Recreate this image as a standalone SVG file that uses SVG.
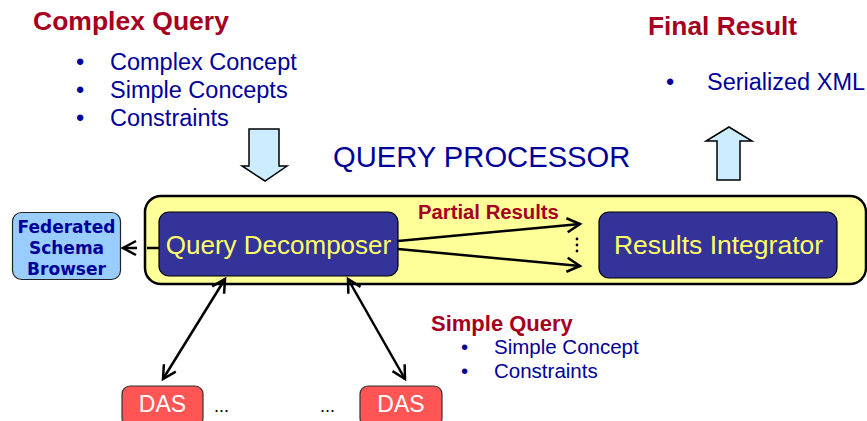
<svg xmlns="http://www.w3.org/2000/svg" width="867" height="421" viewBox="0 0 867 421">
<style>
.t{font-family:"Liberation Sans",Arial,sans-serif}
.red{fill:#A50021;font-weight:bold}
.blue{fill:#000099}
.ln{stroke:#000;stroke-width:2.5;fill:none}
.blk{fill:#333399;stroke:#000;stroke-width:1.2}
.bigarrow{fill:#CCECFF;stroke:#000;stroke-width:1.5}
</style>
<defs>
<marker id="ah" markerUnits="userSpaceOnUse" markerWidth="18" markerHeight="18" refX="14" refY="8" orient="auto-start-reverse" viewBox="0 0 18 16">
<path d="M1,1 L14,8 L1,15" fill="none" stroke="#000" stroke-width="2.5"/>
</marker>
</defs>

<g id="complex-query">
<text class="t red" x="33" y="30" font-size="26.5">Complex Query</text>
<text class="t blue" font-size="23.5"><tspan x="76" y="70">•</tspan><tspan x="110" y="70">Complex Concept</tspan><tspan x="76" y="98">•</tspan><tspan x="110" y="98">Simple Concepts</tspan><tspan x="76" y="126">•</tspan><tspan x="110" y="126">Constraints</tspan></text>
</g>

<g id="final-result">
<text class="t red" x="648" y="35" font-size="26.3">Final Result</text>
<text class="t blue" font-size="23.5"><tspan x="666" y="90">•</tspan><tspan x="707" y="90">Serialized XML</tspan></text>
</g>

<g id="down-arrow">
<polygon class="bigarrow" points="249,129 279,129 279,166 287,166 265,181 242,166 249,166"/>
</g>
<g id="up-arrow">
<polygon class="bigarrow" points="729,127 752,141 740,141 740,180 717,180 717,141 706,141"/>
</g>

<g id="query-processor">
<rect x="145" y="196" width="721" height="88" rx="16" fill="#FFFF99" stroke="#000" stroke-width="2.5"/>
<text class="t blue" x="333" y="167" font-size="29.2">QUERY PROCESSOR</text>
</g>

<g id="query-decomposer">
<rect class="blk" x="159" y="212" width="239" height="64" rx="10"/>
<text class="t" x="278.5" y="254" font-size="26" fill="#FFFF66" text-anchor="middle">Query Decomposer</text>
</g>

<g id="results-integrator">
<rect class="blk" x="599" y="212" width="238" height="66" rx="10"/>
<text class="t" x="718.5" y="254" font-size="26.5" fill="#FFFF66" text-anchor="middle">Results Integrator</text>
</g>

<g id="federated-schema-browser">
<rect x="12.5" y="212.5" width="108" height="67" rx="9" fill="#99CCFF" stroke="#222" stroke-width="1.2"/>
<text font-family="'DejaVu Sans',Verdana,sans-serif" font-weight="bold" font-size="17" fill="#000099" text-anchor="middle"><tspan x="66.5" y="233">Federated</tspan><tspan x="66.5" y="254">Schema</tspan><tspan x="66.5" y="275">Browser</tspan></text>
</g>

<g id="das-1">
<rect x="122" y="386" width="81" height="40" rx="8" fill="#FF5555" stroke="#333" stroke-width="1.2"/>
<text class="t" x="162.5" y="412" font-size="23" fill="#fff" text-anchor="middle">DAS</text>
</g>
<g id="das-2">
<rect x="360" y="386" width="82" height="40" rx="8" fill="#FF5555" stroke="#333" stroke-width="1.2"/>
<text class="t" x="401" y="412" font-size="23" fill="#fff" text-anchor="middle">DAS</text>
</g>
<text class="t" x="214" y="412" font-size="18" fill="#000">...</text>
<text class="t" x="320" y="412" font-size="18" fill="#000">...</text>

<g id="simple-query">
<text class="t red" x="431" y="331" font-size="22">Simple Query</text>
<text class="t blue" font-size="20.5"><tspan x="461" y="354">•</tspan><tspan x="494" y="354">Simple Concept</tspan><tspan x="461" y="378">•</tspan><tspan x="494" y="378">Constraints</tspan></text>
</g>

<g id="connectors">
<text class="t red" x="418" y="219" font-size="20.3">Partial Results</text>
<line class="ln" x1="398" y1="241" x2="580" y2="224" marker-end="url(#ah)"/>
<line class="ln" x1="398" y1="249" x2="580" y2="266" marker-end="url(#ah)"/>
<g fill="#000"><circle cx="577" cy="239" r="1.4"/><circle cx="577" cy="245" r="1.4"/><circle cx="577" cy="251" r="1.4"/></g>
<line class="ln" x1="159" y1="248" x2="147" y2="248"/>
<line class="ln" x1="137" y1="248" x2="123" y2="248" marker-end="url(#ah)"/>
<line class="ln" x1="225" y1="279" x2="163" y2="379" marker-start="url(#ah)" marker-end="url(#ah)"/>
<line class="ln" x1="348" y1="279" x2="405" y2="379" marker-start="url(#ah)" marker-end="url(#ah)"/>
</g>
</svg>
